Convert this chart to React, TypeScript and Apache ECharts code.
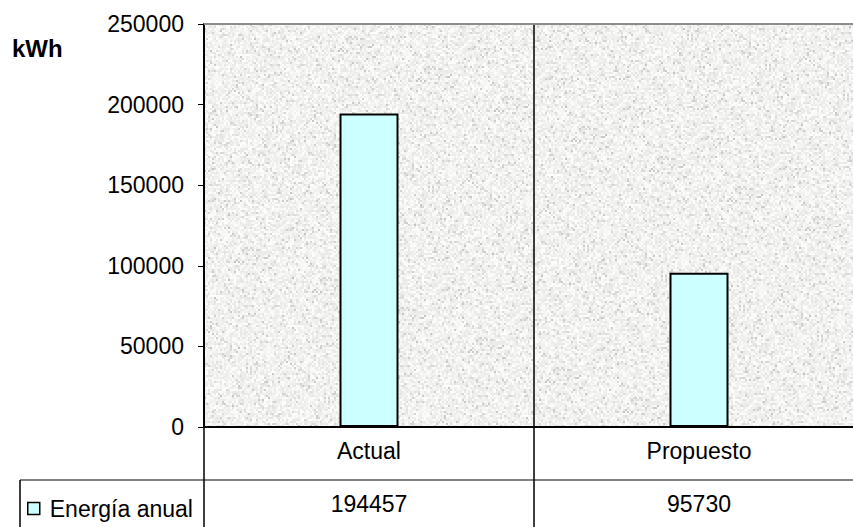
import { useEffect, useRef } from "react";
import * as echarts from "echarts";

// Chart data
const categories = ["Actual", "Propuesto"];
const energiaAnual = [194457, 95730];
const seriesName = "Energía anual";
const unitLabel = "kWh";
const yMin = 0;
const yMax = 250000;
const yInterval = 50000;

// Layout
const W = 853;
const H = 527;
const GRID_LEFT = 204;
const GRID_TOP = 24;
const GRID_W = 660;
const GRID_H = 403;
const ROW_H = 53;
const FONT = "'Liberation Sans', Arial, sans-serif";
const FS = 23;

// Granite-like paper texture for the plot background
function makeGranite(w: number, h: number): string {
  const cw = Math.ceil(w / 2);
  const ch = Math.ceil(h / 2);
  const small = document.createElement("canvas");
  small.width = cw;
  small.height = ch;
  const sctx = small.getContext("2d")!;
  const img = sctx.createImageData(cw, ch);
  let s = 1234567;
  const rnd = () => {
    s = (s * 1103515245 + 12345) & 0x7fffffff;
    return s / 0x7fffffff;
  };
  for (let i = 0; i < cw * ch; i++) {
    let v = 231 + rnd() * 24;
    if (rnd() < 0.13) v -= 12 + rnd() * 26;
    img.data[i * 4] = v;
    img.data[i * 4 + 1] = v;
    img.data[i * 4 + 2] = v - 2;
    img.data[i * 4 + 3] = 255;
  }
  sctx.putImageData(img, 0, 0);
  const c = document.createElement("canvas");
  c.width = w;
  c.height = h;
  const ctx = c.getContext("2d")!;
  ctx.imageSmoothingEnabled = false;
  ctx.drawImage(small, 0, 0, w, h);
  return c.toDataURL();
}

export default function App() {
  const ref = useRef<HTMLDivElement>(null);

  useEffect(() => {
    if (!ref.current) return;
    const chart = echarts.init(ref.current, undefined, { renderer: "svg" });
    const plotBottom = GRID_TOP + GRID_H;
    const divider = GRID_LEFT + GRID_W / categories.length;
    const visibleW = W - GRID_LEFT;

    chart.setOption({
      animation: false,
      backgroundColor: "#ffffff",
      textStyle: { fontFamily: FONT },
      grid: {
        left: GRID_LEFT,
        top: GRID_TOP,
        width: GRID_W,
        height: GRID_H,
        containLabel: false,
        outerBoundsMode: "none",
      },
      legend: {
        show: true,
        left: 27,
        top: 497,
        padding: 0,
        itemWidth: 12,
        itemHeight: 12,
        icon: "rect",
        itemStyle: { borderColor: "#000", borderWidth: 1.5 },
        textStyle: {
          fontFamily: FONT,
          fontSize: FS,
          color: "#000",
          padding: [0, 0, 0, 5],
        },
        data: [seriesName],
      },
      xAxis: [
        {
          type: "category",
          data: categories,
          position: "bottom",
          axisLine: { show: true, lineStyle: { color: "#000", width: 2 } },
          axisTick: { show: false },
          splitLine: { show: true, lineStyle: { color: "#000", width: 1.5 } },
          axisLabel: {
            color: "#000",
            fontSize: FS,
            fontFamily: FONT,
            margin: 12,
          },
        },
        {
          type: "category",
          data: energiaAnual.map((v) => String(v)),
          position: "bottom",
          offset: ROW_H,
          axisLine: { show: false },
          axisTick: { show: false },
          splitLine: { show: false },
          axisLabel: {
            color: "#000",
            fontSize: FS,
            fontFamily: FONT,
            margin: 12,
          },
        },
      ],
      yAxis: {
        type: "value",
        min: yMin,
        max: yMax,
        interval: yInterval,
        axisLine: { show: true, lineStyle: { color: "#000", width: 2 } },
        axisTick: { show: true, length: 6, lineStyle: { color: "#000", width: 1 } },
        splitLine: { show: false },
        axisLabel: {
          color: "#000",
          fontSize: FS,
          fontFamily: FONT,
          margin: 20,
          formatter: (v: number) => String(v),
        },
      },
      series: [
        {
          name: seriesName,
          type: "bar",
          data: energiaAnual,
          barWidth: 59,
          itemStyle: { color: "#ccffff", borderColor: "#000", borderWidth: 2 },
          z: 3,
        },
      ],
      graphic: [
        {
          type: "image",
          z: -10,
          silent: true,
          style: {
            image: makeGranite(visibleW, GRID_H),
            x: GRID_LEFT,
            y: GRID_TOP,
            width: visibleW,
            height: GRID_H,
          },
        },
        {
          type: "line",
          z: 10,
          shape: { x1: GRID_LEFT, y1: GRID_TOP, x2: W, y2: GRID_TOP },
          style: { stroke: "#8c8c8c", lineWidth: 2 },
        },
        {
          type: "line",
          z: 10,
          shape: { x1: 20, y1: plotBottom + ROW_H, x2: W, y2: plotBottom + ROW_H },
          style: { stroke: "#808080", lineWidth: 2 },
        },
        {
          type: "line",
          z: 10,
          shape: { x1: GRID_LEFT, y1: plotBottom, x2: GRID_LEFT, y2: H },
          style: { stroke: "#000", lineWidth: 1.5 },
        },
        {
          type: "line",
          z: 10,
          shape: { x1: divider, y1: plotBottom, x2: divider, y2: H },
          style: { stroke: "#000", lineWidth: 1.5 },
        },
        {
          type: "line",
          z: 10,
          shape: { x1: 20, y1: plotBottom + ROW_H, x2: 20, y2: H },
          style: { stroke: "#000", lineWidth: 1.5 },
        },
        {
          type: "text",
          z: 10,
          style: {
            text: unitLabel,
            x: 12,
            y: 48,
            verticalAlign: "middle",
            fontFamily: FONT,
            fontSize: 24,
            fontWeight: "bold",
            fill: "#000",
          },
        },
      ],
    });

    return () => chart.dispose();
  }, []);

  return (
    <div
      ref={ref}
      style={{ position: "absolute", left: 0, top: 0, width: W, height: H }}
    />
  );
}
